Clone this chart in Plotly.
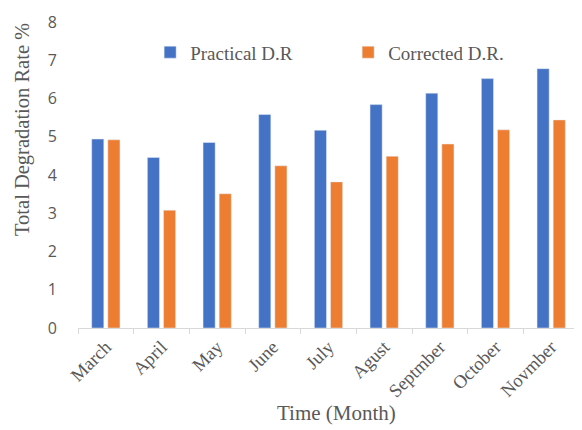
import plotly.graph_objects as go

months = ["March", "April", "May", "June", "July", "Agust", "Septmber", "October", "Novmber"]
practical = [4.94, 4.46, 4.85, 5.58, 5.17, 5.84, 6.14, 6.52, 6.78]
corrected = [4.92, 3.08, 3.51, 4.24, 3.82, 4.49, 4.81, 5.18, 5.44]
y_ticks = [0, 1, 2, 3, 4, 5, 6, 7, 8]

serif = "Liberation Serif, Times New Roman, serif"
grey = "#595959"

fig = go.Figure()
fig.add_trace(go.Bar(x=months, y=practical, name="Practical D.R", marker=dict(color="#4472C4")))
fig.add_trace(go.Bar(x=months, y=corrected, name="Corrected D.R.", marker=dict(color="#ED7D31")))

fig.update_layout(
    width=574, height=422,
    margin=dict(l=70, r=3, t=6, b=102),
    paper_bgcolor="white", plot_bgcolor="white",
    barmode="group", bargap=0.42, bargroupgap=0.25,
    showlegend=True,
    legend=dict(orientation="h", x=0.144, xanchor="left", y=0.901, yanchor="middle",
                font=dict(family=serif, size=19, color=grey),
                entrywidth=153, entrywidthmode="pixels", itemwidth=30,
                bgcolor="rgba(0,0,0,0)"),
    xaxis=dict(
        tickangle=-45,
        tickfont=dict(family=serif, size=18.5, color=grey),
        showline=True, linecolor="#D9D9D9", linewidth=1,
        ticks="outside", ticklen=5, tickcolor="#D9D9D9", tickson="boundaries",
        showgrid=False,
    ),
    yaxis=dict(
        range=[0, 8], tickvals=y_ticks,
        tickfont=dict(family="Open Sans, sans-serif", size=16, color=grey),
        showgrid=False, zeroline=False, showline=False,
        ticks="", ticklabelstandoff=20, ticklabeloverflow="allow",
    ),
    annotations=[
        dict(text="Time (Month)", xref="paper", yref="paper", x=0.515, y=-0.278,
             xanchor="center", yanchor="middle", showarrow=False,
             font=dict(family=serif, size=21, color=grey)),
        dict(text="Total Degradation Rate %", xref="paper", yref="paper", x=-0.112, y=0.65,
             xanchor="center", yanchor="middle", textangle=-90, showarrow=False,
             font=dict(family=serif, size=20.5, color=grey)),
    ],
)

fig.write_html("out.html")
